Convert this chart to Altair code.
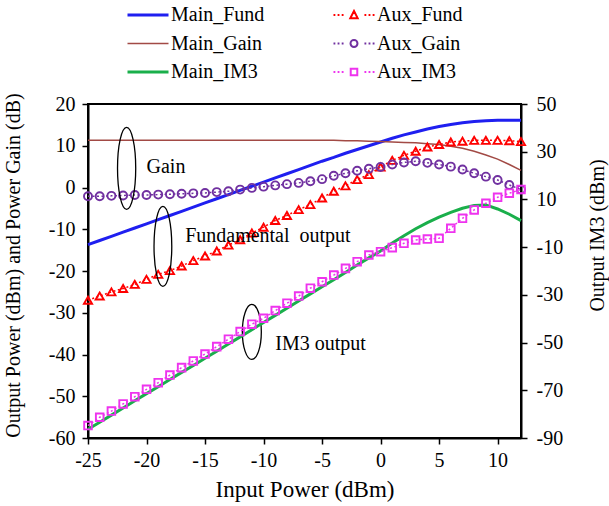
import altair as alt
import pandas as pd

# Input power sweep (dBm)
pin = [-25, -24, -23, -22, -21, -20, -19, -18, -17, -16, -15, -14, -13,
       -12, -11, -10, -9, -8, -7, -6, -5, -4, -3, -2, -1, 0, 1, 2, 3, 4,
       5, 6, 7, 8, 9, 10, 11, 12]

# Left axis series: output power (dBm) and power gain (dB)
main_fund = [-13.7, -12.7, -11.7, -10.7, -9.7, -8.7, -7.7, -6.7, -5.7, -4.7,
             -3.7, -2.7, -1.7, -0.7, 0.3, 1.3, 2.3, 3.3, 4.3, 5.3, 6.3, 7.2,
             8.2, 9.1, 10.0, 10.9, 11.8, 12.6, 13.3, 14.0, 14.6, 15.1, 15.5,
             15.8, 16.0, 16.1, 16.1, 16.1]
main_gain = [11.3, 11.3, 11.3, 11.3, 11.3, 11.3, 11.3, 11.3, 11.3, 11.3,
             11.3, 11.3, 11.3, 11.3, 11.3, 11.3, 11.3, 11.3, 11.3, 11.3,
             11.3, 11.3, 11.2, 11.2, 11.1, 11.0, 10.9, 10.8, 10.7, 10.5,
             10.3, 9.9, 9.4, 8.7, 7.8, 6.8, 5.5, 4.1]
aux_fund = [-27.0, -26.0, -25.0, -24.2, -23.2, -22.0, -20.8, -19.9, -18.8,
            -17.5, -16.4, -15.2, -13.8, -12.5, -10.9, -9.5, -7.9, -6.7, -5.3,
            -4.1, -2.5, -0.9, 0.4, 1.9, 3.1, 4.9, 6.5, 7.7, 8.7, 9.7, 10.3,
            10.9, 11.1, 11.3, 11.3, 11.3, 11.2, 11.0]
aux_gain = [-2.1, -2.1, -2.0, -1.9, -1.8, -1.8, -1.7, -1.6, -1.5, -1.4, -1.3,
            -1.1, -0.9, -0.5, -0.1, 0.2, 0.5, 0.8, 1.1, 1.5, 2.0, 2.8, 3.4,
            4.0, 4.5, 4.9, 5.5, 6.0, 6.3, 5.9, 5.5, 5.0, 4.3, 3.4, 2.6, 1.8,
            0.6, -0.5]

# Right axis series: output IM3 (dBm)
main_im3 = [-86.3, -83.4, -80.4, -77.4, -74.4, -71.4, -68.5, -65.5, -62.5,
            -59.6, -56.6, -53.6, -50.6, -47.6, -44.6, -41.6, -38.6, -35.6,
            -32.6, -29.6, -26.6, -23.7, -20.6, -17.5, -14.5, -11.6, -8.3,
            -5.2, -2.3, 0.3, 2.6, 4.6, 6.3, 7.5, 7.7, 6.0, 3.8, 1.1]
aux_im3 = [-84.8, -81.3, -78.7, -75.7, -72.7, -69.6, -66.8, -63.6, -60.5,
           -57.7, -54.8, -51.7, -48.6, -45.4, -42.3, -39.8, -36.6, -33.5,
           -30.5, -27.2, -24.5, -21.7, -18.9, -16.1, -13.3, -11.9, -10.2,
           -8.4, -7.0, -6.6, -6.3, -2.1, 2.1, 5.6, 8.4, 10.9, 12.6, 14.2]

# Legend entries fill column by column: main series, then auxiliary series
series_names = ["Main_Fund", "Main_Gain", "Main_IM3",
                "Aux_Fund", "Aux_Gain", "Aux_IM3"]
series_colors = ["#1f1ff0", "#a24a45", "#1aaf4b",
                 "#ff0000", "#7030a0", "#ee33ee"]

# Callout labels and their ellipse rings (left-axis units)
note_text = ["Gain", "Fundamental\u00a0 output", "IM3 output"]
note_x = [-20.0, -16.7, -9.0]
note_y = [5.0, -11.7, -37.6]
ring_x = [-21.7, -18.6, -11.0]
ring_y = [4.6, -14.1, -34.6]

FONT = "'Liberation Serif', 'Times New Roman', Times, serif"
COLOR = dict(zip(series_names, series_colors))


def frame(name, values):
    return pd.DataFrame({"pin": pin, "value": values, "series": name})


common_axis = dict(grid=False, domainColor="black", domainWidth=2,
                   tickColor="black", tickWidth=1.5, tickSize=6,
                   labelFont=FONT, labelFontSize=20, labelColor="black",
                   titleFont=FONT, titleFontWeight="normal",
                   titleColor="black", labelExpr="'' + datum.value",
                   labelOverlap=False, labelFlush=False)

x_axis = alt.Axis(values=[-25, -20, -15, -10, -5, 0, 5, 10],
                  title="Input Power (dBm)", titleFontSize=23,
                  labelPadding=6, titlePadding=8, **common_axis)
left_axis = alt.Axis(values=[-60, -50, -40, -30, -20, -10, 0, 10, 20],
                     title="Output Power (dBm) and Power Gain (dB)",
                     titleFontSize=20, labelPadding=7, titleX=-75,
                     titleY=161, titleBaseline="middle", **common_axis)
right_axis = alt.Axis(orient="right",
                      values=[-90, -70, -50, -30, -10, 10, 30, 50],
                      title="Output IM3 (dBm)", titleFontSize=20,
                      labelPadding=9, titleX=76, titleY=131,
                      titleAngle=270, titleBaseline="middle", **common_axis)

X = alt.X("pin:Q", scale=alt.Scale(domain=[-25, 12], nice=False, zero=False),
          axis=x_axis)
YL = alt.Y("value:Q", scale=alt.Scale(domain=[-60, 20], nice=False,
                                      zero=False), axis=left_axis)
YR = alt.Y("value:Q", scale=alt.Scale(domain=[-90, 50], nice=False,
                                      zero=False), axis=right_axis)


def solid(name, values, width, y):
    return alt.Chart(frame(name, values)).mark_line(
        color=COLOR[name], strokeWidth=width).encode(x=X, y=y)


def dotted(name, values, shape, size, y):
    df = frame(name, values)
    line = alt.Chart(df).mark_line(
        color=COLOR[name], strokeWidth=1.5, strokeDash=[2, 2.5]
    ).encode(x=X, y=y)
    pts = alt.Chart(df).mark_point(
        shape=shape, size=size, filled=False, color=COLOR[name],
        strokeWidth=1.9, opacity=1).encode(x=X, y=y)
    return [line, pts]


# Ellipse outlines drawn as custom symbols
TALL_RING = ("M0,-1C0.123,-1 0.222,-0.552 0.222,0C0.222,0.552 0.123,1 0,1"
             "C-0.123,1 -0.222,0.552 -0.222,0C-0.222,-0.552 -0.123,-1 0,-1Z")
SHORT_RING = ("M0,-1C0.19,-1 0.345,-0.552 0.345,0C0.345,0.552 0.19,1 0,1"
              "C-0.19,1 -0.345,0.552 -0.345,0C-0.345,-0.552 -0.19,-1 0,-1Z")
ring_df = pd.DataFrame({"pin": ring_x, "value": ring_y})
ring_style = [(TALL_RING, 6724), (TALL_RING, 6400), (SHORT_RING, 3025)]
rings = []
for i, (path, size) in enumerate(ring_style):
    rings.append(alt.Chart(ring_df.iloc[[i]]).mark_point(
        shape=path, size=size, filled=False, color="black",
        strokeWidth=1.3, opacity=1).encode(x=X, y=YL))

notes = alt.Chart(pd.DataFrame({"pin": note_x, "value": note_y,
                                "label": note_text})).mark_text(
    align="left", baseline="middle", font=FONT, fontSize=20, color="black"
).encode(x=X, y=YL, text="label:N")

# Legend glyphs: plain strokes for the main series, dotted strokes with a
# marker for the auxiliary series
DOTS = ("M-1,0L-0.91,0M-0.8,0L-0.71,0M-0.6,0L-0.51,0"
        "M0.51,0L0.6,0M0.71,0L0.8,0M0.91,0L1,0")
LINE = "M-1,0L1,0"
TRI = "M-0.18,0.16L0,-0.2L0.18,0.16Z"
CIRC = ("M0,-0.17C0.094,-0.17 0.17,-0.094 0.17,0C0.17,0.094 0.094,0.17 0,0.17"
        "C-0.094,0.17 -0.17,0.094 -0.17,0C-0.17,-0.094 -0.094,-0.17 0,-0.17Z")
SQR = "M-0.16,-0.16L0.16,-0.16L0.16,0.16L-0.16,0.16Z"
legend_shapes = [LINE, LINE, LINE, DOTS + TRI, DOTS + CIRC, DOTS + SQR]
legend_widths = [3, 1.5, 3, 2, 2, 2]

legend = alt.Legend(title=None, orient="none", legendX=38, legendY=-99,
                    columns=2, columnPadding=67, rowPadding=8.5,
                    clipHeight=20, symbolSize=1681, labelFont=FONT,
                    labelFontSize=20, labelColor="black", labelOffset=1,
                    labelLimit=300, padding=0)

legend_df = pd.concat([frame(n, v) for n, v in
                       [("Main_Fund", main_fund), ("Main_Gain", main_gain)]])
legend_layer = alt.Chart(legend_df).transform_filter("false").mark_point(
    filled=False, opacity=1).encode(
    x=X, y=YL,
    color=alt.Color("series:N", legend=legend,
                    scale=alt.Scale(domain=series_names, range=series_colors)),
    shape=alt.Shape("series:N", legend=legend,
                    scale=alt.Scale(domain=series_names, range=legend_shapes)),
    strokeWidth=alt.StrokeWidth("series:N", legend=legend,
                                scale=alt.Scale(type="ordinal",
                                                domain=series_names,
                                                range=legend_widths)),
)

left = alt.layer(
    solid("Main_Fund", main_fund, 3, YL),
    solid("Main_Gain", main_gain, 1.5, YL),
    *dotted("Aux_Fund", aux_fund, "triangle-up", 66, YL),
    *dotted("Aux_Gain", aux_gain, "circle", 64, YL),
    *rings,
    notes,
    legend_layer,
)

right = alt.layer(
    solid("Main_IM3", main_im3, 3, YR),
    *dotted("Aux_IM3", aux_im3, "square", 58, YR),
)

chart = alt.layer(left, right).resolve_scale(y="independent").properties(
    width=433, height=334,
    autosize=alt.AutoSizeParams(type="none"),
    padding={"left": 88, "top": 104, "right": 88, "bottom": 68},
).configure_view(stroke="black", strokeWidth=2)

chart.save("out.html", embed_options={"renderer": "svg", "actions": False})
